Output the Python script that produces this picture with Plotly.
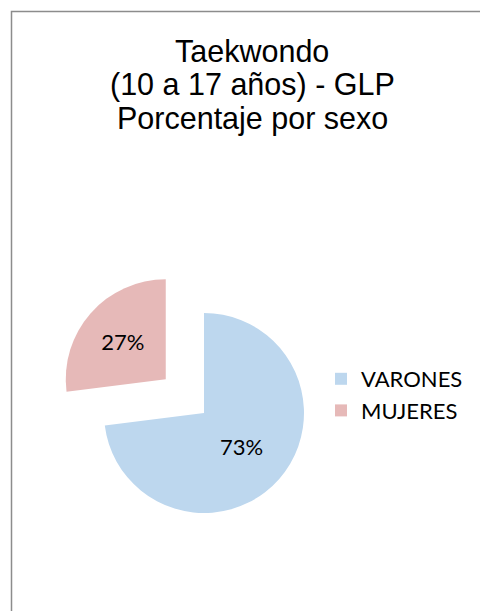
import plotly.graph_objects as go

categories = ["VARONES", "MUJERES"]
values = [73, 27]
colors = ["#BDD7EE", "#E6B9B8"]
pulls = [0, 0.51]
title_lines = ["Taekwondo", "(10 a 17 años) - GLP", "Porcentaje por sexo"]

W, H = 480, 611
cx, cy, half = 204, 413, 151

fig = go.Figure(go.Pie(
    labels=categories,
    values=values,
    marker=dict(colors=colors, line=dict(width=0)),
    pull=pulls,
    sort=False,
    direction="clockwise",
    rotation=0,
    textinfo="percent",
    textposition="inside",
    insidetextorientation="horizontal",
    textfont=dict(family="Lato", size=22, color="#000000"),
    domain=dict(x=[(cx - half) / W, (cx + half) / W],
                y=[1 - (cy + half) / H, 1 - (cy - half) / H]),
    hoverinfo="label+percent",
))

title_y = [51.5, 84, 118]
annotations = [
    dict(text=t, x=252 / W, y=1 - yy / H, xref="paper", yref="paper",
         xanchor="center", yanchor="middle", showarrow=False,
         font=dict(family="Liberation Sans", size=30.5, color="#000000"))
    for t, yy in zip(title_lines, title_y)
]

fig.update_layout(
    width=W, height=H,
    margin=dict(l=0, r=0, t=0, b=0),
    paper_bgcolor="white",
    plot_bgcolor="white",
    annotations=annotations,
    legend=dict(
        x=321 / W, xanchor="left",
        y=1 - 395 / H, yanchor="middle",
        font=dict(family="Lato", size=22, color="#000000"),
        bgcolor="rgba(0,0,0,0)",
        tracegroupgap=0,
    ),
    showlegend=True,
    shapes=[dict(type="rect", xref="paper", yref="paper",
                 x0=11.5 / W, x1=1.05, y0=-0.05, y1=1 - 11.5 / H,
                 line=dict(color="#8c8c8c", width=1.5), layer="below")],
)

fig.write_html("out.html", config={"displayModeBar": False},
               post_script="document.body.style.margin='0';")
